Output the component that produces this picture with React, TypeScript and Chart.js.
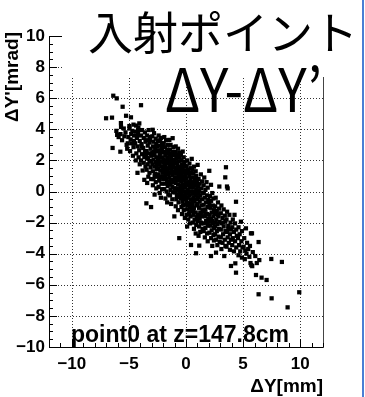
import React, { useEffect, useRef } from 'react';
import { Chart, registerables } from 'chart.js';

Chart.register(...registerables);

// ---------- axis ranges and ticks ----------
const X_RANGE = [-12, 12];
const Y_RANGE = [-10, 10];
const xMajorTicks = [-10, -5, 0, 5, 10];
const yMajorTicks = [-10, -8, -6, -4, -2, 0, 2, 4, 6, 8, 10];
const xMinorStep = 1;
const yMinorStep = 0.5;

// ---------- texts ----------
const titleJa = '入射ポイント';
const titleVar = 'ΔY-ΔY’';
const xAxisTitle = 'ΔY[mm]';
const yAxisTitle = "ΔY'[mrad]";
const noteText = 'point0 at z=147.8cm';

// ---------- data: [ΔY (mm), ΔY' (mrad)] ----------
const tailUpperLeft: [number, number][] = [
  [-6.37, 6.16], [-6.07, 5.99], [-5.55, 5.45], [-3.94, 5.55], [-7.0, 4.71], [-6.48, 4.75],
  [-5.25, 4.87], [-4.82, 4.77], [-5.69, 4.15], [-5.7, 4.4], [-4.96, 4.21], [-4.09, 4.38],
  [-4.37, 4.24], [-4.17, 4.12], [-6.03, 3.64], [-5.74, 3.69], [-6.1, 3.9], [-5.9, 3.5],
  [-5.6, 3.3], [-6.43, 2.8], [-5.75, 2.56], [-5.45, 4.05], [-5.3, 3.8], [-5.4, 3.55],
  [-5.05, 3.5], [-5.1, 3.1], [-5.2, 3.0], [-5.15, 2.75], [-3.47, -0.76], [-3.06, -1.0],
];

const coreHits: [number, number][] = [
  [-4.95, 4.05], [-4.6, 4.3], [-4.7, 3.9], [-4.55, 3.6], [-4.85, 3.35], [-4.75, 3.1], [-4.6, 2.85],
  [-4.9, 2.6], [-4.65, 2.3], [-4.55, 3.25], [-4.8, 3.7],
  [-4.4, 3.85], [-4.2, 3.7], [-4.3, 3.45], [-4.05, 3.25], [-4.45, 3.1], [-4.25, 2.9], [-4.1, 2.65],
  [-4.35, 2.45], [-4.15, 2.2], [-4.4, 2.0], [-4.05, 1.75], [-4.25, 1.2], [-4.2, 3.95],
  [-3.85, 3.95], [-3.6, 3.8], [-3.95, 3.6], [-3.7, 3.45], [-3.55, 3.2], [-3.9, 3.05], [-3.75, 2.8],
  [-3.6, 2.6], [-3.85, 2.4], [-3.65, 2.2], [-3.95, 2.0], [-3.7, 1.85], [-3.55, 1.6], [-3.8, 1.35],
  [-3.65, 0.75], [-3.9, 2.9], [-3.5, 2.4],
  [-3.27, 3.95], [-3.4, 3.6], [-3.15, 3.5], [-3.45, 3.3], [-3.2, 3.15], [-3.35, 2.95], [-3.1, 2.75],
  [-3.45, 2.6], [-3.25, 2.45], [-3.05, 2.3], [-3.4, 2.15], [-3.2, 1.95], [-3.35, 1.75], [-3.1, 1.55],
  [-3.45, 1.4], [-3.2, 1.2], [-3.3, 0.95], [-3.05, 0.8], [-3.4, 0.55], [-3.15, 3.3], [-3.3, 2.1],
  [-3.05, 1.95],
  [-2.92, 3.97], [-2.8, 3.75], [-2.95, 3.55], [-2.65, 3.4], [-2.85, 3.2], [-2.6, 3.05], [-2.9, 2.9],
  [-2.7, 2.75], [-2.55, 2.6], [-2.95, 2.5], [-2.75, 2.35], [-2.6, 2.2], [-2.85, 2.05], [-2.65, 1.9],
  [-2.95, 1.75], [-2.75, 1.6], [-2.55, 1.45], [-2.9, 1.3], [-2.7, 1.15], [-2.55, 0.95], [-2.85, 0.8],
  [-2.65, 0.6], [-2.9, 0.4], [-2.6, 0.2], [-2.75, -0.2], [-2.55, 2.9], [-2.8, 2.55], [-2.6, 1.7],
  [-2.75, 1.0],
  [-2.4, 3.6], [-2.2, 3.45], [-2.45, 3.25], [-2.1, 3.1], [-2.35, 2.95], [-2.15, 2.8], [-2.4, 2.65],
  [-2.05, 2.5], [-2.3, 2.35], [-2.1, 2.2], [-2.45, 2.1], [-2.25, 1.95], [-2.0, 1.85], [-2.35, 1.75],
  [-2.15, 1.6], [-2.45, 1.5], [-2.25, 1.35], [-2.05, 1.2], [-2.4, 1.1], [-2.2, 0.95], [-2.0, 0.8],
  [-2.35, 0.7], [-2.15, 0.5], [-2.4, 0.3], [-2.1, 0.15], [-2.3, -0.1], [-2.2, -0.4], [-2.05, 2.95],
  [-2.3, 2.5], [-2.0, 1.5], [-2.3, 0.9], [-2.45, 1.9], [-2.1, 2.65], [-2.25, 3.3],
  [-1.9, 3.5], [-1.75, 3.3], [-1.95, 3.1], [-1.6, 3.0], [-1.85, 2.85], [-1.65, 2.7], [-1.9, 2.55],
  [-1.55, 2.45], [-1.8, 2.3], [-1.6, 2.15], [-1.95, 2.05], [-1.7, 1.9], [-1.5, 1.8], [-1.85, 1.65],
  [-1.6, 1.5], [-1.95, 1.35], [-1.75, 1.25], [-1.55, 1.1], [-1.9, 0.95], [-1.7, 0.8], [-1.5, 0.65],
  [-1.85, 0.5], [-1.6, 0.35], [-1.9, 0.15], [-1.7, 0.0], [-1.55, -0.2], [-1.8, -0.45], [-1.65, -0.7],
  [-1.75, 2.0], [-1.65, 1.35], [-1.8, 1.05], [-1.55, 2.6], [-1.7, 2.45], [-1.85, 1.45], [-1.65, 0.55],
  [-1.5, 1.95],
  [-1.46, 3.32], [-1.17, 3.43], [-1.35, 3.0], [-1.1, 2.85], [-1.4, 2.7], [-1.2, 2.55], [-1.45, 2.4],
  [-1.05, 2.35], [-1.3, 2.2], [-1.15, 2.05], [-1.4, 1.9], [-1.0, 1.85], [-1.25, 1.75], [-1.45, 1.6],
  [-1.1, 1.55], [-1.3, 1.4], [-1.05, 1.3], [-1.4, 1.2], [-1.2, 1.05], [-1.45, 0.9], [-1.0, 0.9],
  [-1.3, 0.75], [-1.1, 0.6], [-1.4, 0.45], [-1.2, 0.3], [-1.0, 0.2], [-1.35, 0.1], [-1.15, -0.05],
  [-1.4, -0.25], [-1.2, -0.5], [-1.3, -0.8], [-1.02, -1.6], [-1.25, 1.95], [-1.15, 1.2], [-1.35, 0.5],
  [-1.05, 0.7], [-1.2, 2.35], [-1.35, 1.5], [-1.1, 1.7],
  [-0.9, 2.9], [-0.7, 2.75], [-0.95, 2.55], [-0.6, 2.5], [-0.8, 2.35], [-0.55, 2.2], [-0.85, 2.1],
  [-0.65, 1.95], [-0.95, 1.85], [-0.75, 1.7], [-0.55, 1.6], [-0.9, 1.5], [-0.7, 1.35], [-0.5, 1.25],
  [-0.85, 1.15], [-0.65, 1.0], [-0.95, 0.9], [-0.75, 0.8], [-0.55, 0.7], [-0.9, 0.55], [-0.7, 0.45],
  [-0.5, 0.3], [-0.85, 0.2], [-0.6, 0.05], [-0.95, -0.05], [-0.75, -0.2], [-0.55, -0.35], [-0.85, -0.5],
  [-0.65, -0.7], [-0.9, -0.95], [-0.7, -1.2], [-0.59, -3.0], [-0.8, 1.25], [-0.6, 0.9], [-0.75, 0.15],
  [-0.65, 1.55], [-0.85, 0.75], [-0.55, -0.1], [-0.8, -0.3],
  [-0.29, 2.57], [-0.45, 2.35], [-0.2, 2.2], [-0.4, 2.0], [-0.15, 1.9], [-0.35, 1.75], [-0.05, 1.65],
  [-0.3, 1.5], [-0.45, 1.4], [-0.1, 1.35], [-0.25, 1.2], [-0.45, 1.05], [-0.05, 1.05], [-0.3, 0.9],
  [-0.15, 0.75], [-0.4, 0.65], [-0.05, 0.55], [-0.25, 0.45], [-0.45, 0.3], [-0.1, 0.25], [-0.3, 0.1],
  [-0.05, -0.05], [-0.4, -0.15], [-0.2, -0.25], [-0.45, -0.45], [-0.1, -0.5], [-0.3, -0.65],
  [-0.15, -0.85], [-0.4, -1.0], [-0.2, -1.2], [-0.35, -1.45], [-0.1, -1.7], [-0.25, 1.6], [-0.35, 0.4],
  [-0.15, 0.0], [-0.3, -0.35], [-0.2, 0.95], [-0.45, 0.8], [-0.1, -0.3], [-0.25, -0.9],
  [0.1, 2.0], [0.3, 1.8], [0.05, 1.6], [0.4, 1.5], [0.2, 1.35], [0.45, 1.2], [0.1, 1.15], [0.3, 1.0],
  [0.05, 0.85], [0.4, 0.75], [0.2, 0.6], [0.45, 0.45], [0.05, 0.4], [0.3, 0.25], [0.15, 0.1],
  [0.45, 0.0], [0.05, -0.15], [0.3, -0.25], [0.15, -0.4], [0.45, -0.5], [0.05, -0.6], [0.35, -0.75],
  [0.15, -0.9], [0.45, -1.05], [0.1, -1.15], [0.3, -1.3], [0.05, -1.5], [0.4, -1.6], [0.2, -1.8],
  [0.35, -2.05], [0.1, -2.25], [0.44, -3.44], [0.25, 0.45], [0.2, -0.1], [0.35, -1.0], [0.15, 1.4],
  [0.3, 0.6], [0.1, -0.75], [0.25, -1.45],
  [0.5, 2.1], [0.7, 1.6], [0.55, 1.4], [0.85, 1.3], [0.65, 1.15], [0.9, 1.0], [0.6, 0.9], [0.8, 0.75],
  [0.55, 0.6], [0.95, 0.55], [0.75, 0.4], [0.6, 0.25], [0.9, 0.15], [0.7, 0.0], [0.55, -0.15],
  [0.85, -0.25], [0.65, -0.4], [0.95, -0.5], [0.75, -0.65], [0.55, -0.8], [0.9, -0.9], [0.7, -1.05],
  [0.55, -1.25], [0.85, -1.35], [0.65, -1.5], [0.95, -1.65], [0.75, -1.8], [0.6, -2.0], [0.9, -2.15],
  [0.7, -2.4], [0.85, -2.7], [0.88, -3.97], [0.8, -0.1], [0.65, -1.2], [0.75, 0.6], [0.6, -0.55],
  [1.02, 1.71], [1.3, 1.1], [1.1, 0.8], [1.4, 0.65], [1.2, 0.5], [1.05, 0.3], [1.35, 0.2], [1.15, 0.05],
  [1.45, -0.1], [1.25, -0.25], [1.05, -0.4], [1.4, -0.5], [1.2, -0.65], [1.0, -0.8], [1.35, -0.9],
  [1.15, -1.05], [1.45, -1.2], [1.25, -1.35], [1.05, -1.5], [1.4, -1.6], [1.2, -1.75], [1.0, -1.9],
  [1.35, -2.05], [1.15, -2.25], [1.45, -2.4], [1.25, -2.6], [1.1, -2.85], [1.16, -3.48], [1.3, -1.5],
  [1.1, -0.15], [1.3, -2.0],
  [1.6, 0.9], [1.8, 0.6], [1.55, 0.4], [1.9, 0.25], [1.7, 0.1], [1.55, -0.1], [1.85, -0.25],
  [1.65, -0.4], [1.95, -0.55], [1.75, -0.7], [1.55, -0.85], [1.9, -1.0], [1.7, -1.15], [1.55, -1.3],
  [1.85, -1.45], [1.65, -1.6], [1.95, -1.75], [1.75, -1.9], [1.55, -2.05], [1.9, -2.2], [1.7, -2.35],
  [1.55, -2.55], [1.85, -2.7], [1.65, -2.95], [1.9, -3.2], [1.7, -1.4], [1.8, -2.0],
  [2.04, 1.33], [2.19, 0.43], [2.3, -0.1], [2.1, -0.3], [2.4, -0.45], [2.2, -0.6], [2.05, -0.8],
  [2.35, -0.9], [2.15, -1.05], [2.45, -1.2], [2.25, -1.35], [2.05, -1.5], [2.4, -1.6], [2.2, -1.75],
  [2.0, -1.95], [2.35, -2.05], [2.15, -2.2], [2.45, -2.35], [2.25, -2.5], [2.05, -2.65], [2.4, -2.8],
  [2.2, -3.0], [2.45, -3.15], [2.19, -4.15], [2.3, -3.5], [2.3, -1.9],
  [2.63, -3.93], [2.6, -0.4], [2.8, -0.7], [2.55, -0.95], [2.9, -1.1], [2.7, -1.25], [2.55, -1.45],
  [2.85, -1.6], [2.65, -1.8], [2.95, -1.95], [2.75, -2.1], [2.55, -2.25], [2.9, -2.4], [2.7, -2.55],
  [2.55, -2.75], [2.85, -2.9], [2.65, -3.1], [2.95, -3.25], [2.75, -3.45], [2.92, 0.32], [2.8, -1.5],
  [2.6, -2.0],
  [3.35, -4.15], [3.5, 1.56], [3.44, 0.91], [3.1, -0.9], [3.3, -1.15], [3.05, -1.4], [3.4, -1.55],
  [3.2, -1.7], [3.45, -1.9], [3.1, -2.05], [3.3, -2.25], [3.05, -2.45], [3.45, -2.55], [3.25, -2.75],
  [3.05, -2.95], [3.4, -3.1], [3.2, -3.3], [3.45, -3.5], [3.1, -3.7], [3.3, -2.0],
  [3.59, 0.32], [3.65, 0.2], [3.6, -1.3], [3.8, -1.5], [3.55, -1.8], [3.9, -2.0], [3.7, -2.2],
  [3.95, -2.45], [3.6, -2.6], [3.85, -2.75], [3.65, -2.95], [3.95, -3.1], [3.75, -3.3], [3.55, -3.55],
  [3.85, -3.75], [3.94, -4.79], [3.7, -2.4],
  [4.38, -0.66], [4.1, -1.8], [4.3, -2.05], [4.05, -2.3], [4.4, -2.45], [4.2, -2.6], [4.45, -2.85],
  [4.1, -3.0], [4.3, -3.2], [4.05, -3.45], [4.4, -3.6], [4.2, -3.85], [4.32, -4.62], [4.25, -1.5],
];

const tailLowerRight: [number, number][] = [
  [4.38, -5.22], [4.81, -1.94], [4.6, -2.3], [4.9, -2.55], [4.7, -2.75], [4.55, -3.0], [4.85, -3.2],
  [4.65, -3.45], [4.95, -3.6], [4.75, -3.85], [4.6, -4.1], [4.9, -4.25],
  [5.25, -2.37], [5.19, -3.8], [5.1, -3.0], [5.35, -3.3], [5.05, -3.55], [5.3, -4.0], [5.45, -3.7],
  [5.15, -4.35], [5.69, -2.69], [5.78, -2.69], [5.72, -4.73], [5.65, -4.6], [5.8, -4.8], [5.6, -3.5],
  [5.85, -3.9], [5.55, -4.2], [6.07, -4.15], [6.42, -4.41], [6.36, -3.25], [6.13, -5.37], [6.62, -5.54],
  [7.06, -5.69], [6.36, -6.61], [7.5, -6.87], [8.9, -7.45], [9.92, -6.48], [7.47, -4.34], [8.4, -4.53],
  [6.2, -4.6],
];

const allHits = [...tailUpperLeft, ...coreHits, ...tailLowerRight];

const minusFmt = (v: number) => (v < 0 ? '\u2212' + Math.abs(v) : String(v));

const framePlugin = {
  id: 'rootFrame',
  beforeDatasetsDraw(chart: any) {
    const { ctx, chartArea, scales } = chart;
    const { left, right, top, bottom } = chartArea;
    const xs = scales.x, ys = scales.y;
    ctx.save();
    ctx.strokeStyle = '#333';
    ctx.lineWidth = 1;
    ctx.setLineDash([1, 2]);
    xMajorTicks.forEach((v) => {
      const px = Math.round(xs.getPixelForValue(v)) + 0.5;
      ctx.beginPath();
      ctx.moveTo(px, top);
      ctx.lineTo(px, bottom);
      ctx.stroke();
    });
    yMajorTicks.forEach((v) => {
      if (v === Y_RANGE[0] || v === Y_RANGE[1]) return;
      const py = Math.round(ys.getPixelForValue(v)) + 0.5;
      ctx.beginPath();
      ctx.moveTo(left, py);
      ctx.lineTo(right, py);
      ctx.stroke();
    });
    ctx.restore();
  },
  afterDatasetsDraw(chart: any) {
    const { ctx, chartArea, scales } = chart;
    const { left, right, top, bottom } = chartArea;
    const xs = scales.x, ys = scales.y;
    ctx.save();
    ctx.setLineDash([]);
    ctx.lineWidth = 1;
    ctx.strokeStyle = '#000';
    ctx.beginPath();
    ctx.moveTo(left + 0.5, top);
    ctx.lineTo(left + 0.5, bottom + 0.5);
    ctx.lineTo(right, bottom + 0.5);
    ctx.moveTo(left, top + 0.5);
    ctx.lineTo(right, top + 0.5);
    ctx.stroke();
    ctx.strokeStyle = '#444';
    ctx.beginPath();
    ctx.moveTo(right + 0.5, top);
    ctx.lineTo(right + 0.5, bottom + 1);
    ctx.stroke();
    ctx.strokeStyle = '#000';
    ctx.beginPath();
    for (let v = X_RANGE[0]; v <= X_RANGE[1] + 1e-9; v += xMinorStep) {
      const px = Math.round(xs.getPixelForValue(v)) + 0.5;
      const len = xMajorTicks.includes(v) ? 8 : 4;
      ctx.moveTo(px, bottom);
      ctx.lineTo(px, bottom - len);
    }
    for (let v = Y_RANGE[0]; v <= Y_RANGE[1] + 1e-9; v += yMinorStep) {
      const py = Math.round(ys.getPixelForValue(v)) + 0.5;
      const len = yMajorTicks.includes(v) ? 8 : 4;
      ctx.moveTo(left, py);
      ctx.lineTo(left + len, py);
    }
    ctx.stroke();
    ctx.restore();
  },
  afterDraw(chart: any) {
    const { ctx, chartArea, width, height } = chart;
    const { left, right, top, bottom } = chartArea;
    ctx.save();
    ctx.fillStyle = '#fff';
    ctx.fillRect(left + 13, 0, width - left - 13, top + 41);

    ctx.fillStyle = '#000';
    ctx.font = "45px 'Noto Sans CJK JP'";
    ctx.textAlign = 'left';
    ctx.textBaseline = 'alphabetic';
    {
      const w = ctx.measureText(titleJa).width;
      ctx.save();
      ctx.translate(88, 50);
      ctx.scale(270 / w, 1);
      ctx.fillText(titleJa, 0, 0);
      ctx.restore();
    }
    ctx.font = "60px 'Noto Sans CJK JP'";
    {
      const w = ctx.measureText(titleVar).width;
      ctx.save();
      ctx.translate(165, 112);
      ctx.scale(157 / w, 1);
      ctx.fillText(titleVar, 0, 0);
      ctx.restore();
    }
    ctx.font = "bold 23px 'Liberation Sans'";
    ctx.fillText(noteText, left + 22, bottom - 5);

    ctx.font = "bold 19px 'Liberation Sans'";
    ctx.textAlign = 'right';
    ctx.textBaseline = 'middle';
    ctx.fillText(xAxisTitle, right, height - 10);
    ctx.save();
    ctx.translate(13, top - 4);
    ctx.rotate(-Math.PI / 2);
    ctx.fillText(yAxisTitle, 0, 0);
    ctx.restore();

    ctx.fillStyle = '#4a7fd4';
    ctx.fillRect(width - 3, 0, 2, height);
    ctx.restore();
  },
};

export default function App() {
  const canvasRef = useRef<HTMLCanvasElement | null>(null);

  useEffect(() => {
    const canvas = canvasRef.current;
    if (!canvas) return;
    const chart = new Chart(canvas, {
      type: 'scatter',
      data: {
        datasets: [
          {
            label: 'hits',
            data: allHits.map(([x, y]) => ({ x, y })),
            pointStyle: 'rect',
            pointRadius: 3,
            pointHoverRadius: 3,
            backgroundColor: '#000',
            borderColor: '#000',
            borderWidth: 0,
          },
        ],
      },
      options: {
        animation: false,
        responsive: false,
        maintainAspectRatio: false,
        events: [],
        layout: { padding: { left: 0, right: 42, top: 36, bottom: 0 } },
        plugins: { legend: { display: false }, tooltip: { enabled: false }, title: { display: false } },
        scales: {
          x: {
            type: 'linear',
            min: X_RANGE[0],
            max: X_RANGE[1],
            grid: { display: false, drawTicks: false },
            border: { display: false },
            afterBuildTicks: (s: any) => {
              s.ticks = xMajorTicks.map((v) => ({ value: v }));
            },
            afterFit: (s: any) => {
              s.height = 50;
            },
            ticks: {
              autoSkip: false,
              maxRotation: 0,
              padding: 7,
              color: '#000',
              font: { family: "'Liberation Sans', Arial, sans-serif", size: 17, weight: 'bold' },
              callback: (v: any) => minusFmt(Number(v)),
            },
          },
          y: {
            type: 'linear',
            min: Y_RANGE[0],
            max: Y_RANGE[1],
            grid: { display: false, drawTicks: false },
            border: { display: false },
            afterBuildTicks: (s: any) => {
              s.ticks = yMajorTicks.map((v) => ({ value: v }));
            },
            afterFit: (s: any) => {
              s.width = 49;
            },
            ticks: {
              autoSkip: false,
              padding: 4,
              color: '#000',
              font: { family: "'Liberation Sans', Arial, sans-serif", size: 17, weight: 'bold' },
              callback: (v: any) => minusFmt(Number(v)),
            },
          },
        },
      },
      plugins: [framePlugin],
    } as any);
    return () => chart.destroy();
  }, []);

  return (
    <div style={{ position: 'fixed', left: 0, top: 0, width: 365, height: 397, background: '#fff' }}>
      <canvas ref={canvasRef} width={365} height={397} style={{ display: 'block' }} />
    </div>
  );
}
